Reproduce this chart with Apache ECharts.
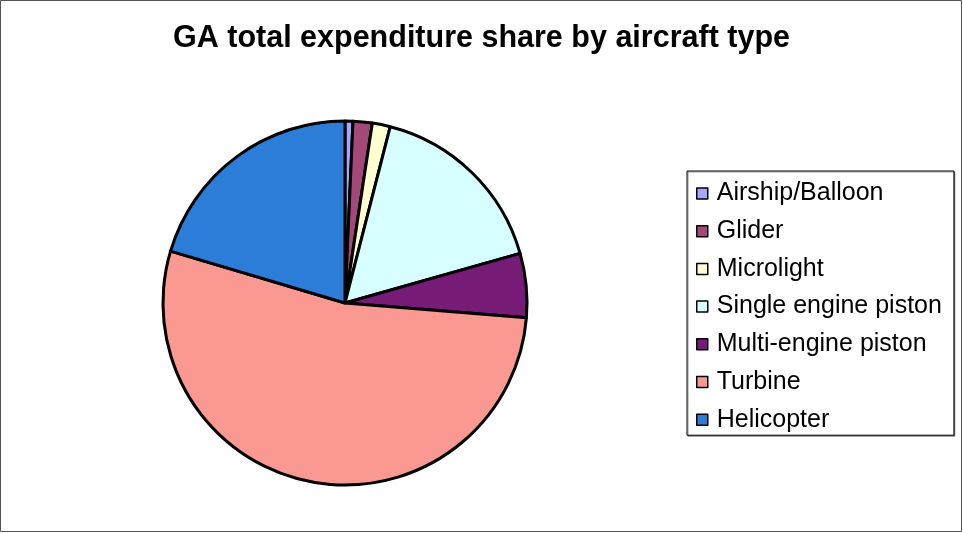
<!DOCTYPE html>
<html>
<head>
<meta charset="utf-8">
<script src="https://cdn.jsdelivr.net/npm/echarts@6/dist/echarts.min.js"></script>
<style>
  html, body { margin: 0; padding: 0; background: #fff; }
  #chart { width: 963px; height: 533px; }
</style>
</head>
<body>
<div id="chart"></div>
<script>
var chart = echarts.init(document.getElementById('chart'));

// share of GA expenditure in %
var types = ['Airship/Balloon', 'Glider', 'Microlight', 'Single engine piston', 'Multi-engine piston', 'Turbine', 'Helicopter'];
var shares = [0.7, 1.7, 1.6, 16.6, 5.7, 53.3, 20.4];
var colours = ['#a6a6ff', '#a3497a', '#ffffd2', '#d8ffff', '#761b76', '#fa9892', '#2b7dd8'];

var pieData = [];
for (var i = 0; i < types.length; i++) {
    pieData.push({ value: shares[i], name: types[i], itemStyle: { color: colours[i] } });
}

var option = {
    backgroundColor: '#fff',
    animation: false,
    title: {
        text: 'GA total expenditure share by aircraft type',
        left: 'center',
        top: 18,
        textStyle: { fontFamily: 'Liberation Sans, Arial', fontWeight: 'bold', fontSize: 30.5, color: '#000' }
    },
    legend: {
        orient: 'vertical',
        left: 687,
        top: 171,
        padding: [10, 12, 3, 9],
        backgroundColor: '#fff',
        borderColor: '#000',
        borderWidth: 1,
        shadowColor: 'rgba(0,0,0,0.4)',
        shadowOffsetX: 1,
        shadowOffsetY: 1,
        icon: 'rect',
        itemWidth: 11,
        itemHeight: 11,
        itemGap: 12.7,
        itemStyle: { borderColor: '#000', borderWidth: 1.5 },
        textStyle: { fontFamily: 'Liberation Sans, Arial', fontSize: 25, color: '#000', lineHeight: 24, padding: [0, 0, 0, 4] },
        data: types
    },
    series: [{
        name: 'Expenditure share',
        type: 'pie',
        center: [345, 303],
        radius: [0, 182],
        startAngle: 90,
        clockwise: true,
        label: { show: false },
        labelLine: { show: false },
        emphasis: { disabled: true },
        itemStyle: { borderColor: '#000', borderWidth: 3 },
        data: pieData
    }],
    graphic: [{
        type: 'rect',
        shape: { x: 0.5, y: 0.5, width: 961, height: 531 },
        style: { fill: null, stroke: '#555', lineWidth: 1 },
        silent: true
    }]
};

chart.setOption(option);
</script>
</body>
</html>
